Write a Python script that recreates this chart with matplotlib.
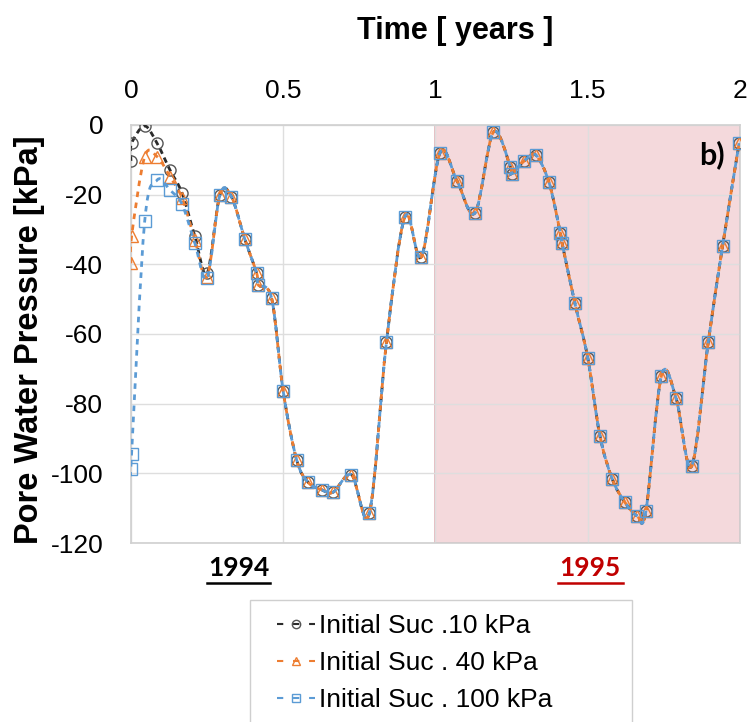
import numpy as np
import matplotlib.pyplot as plt
from matplotlib.path import Path
from matplotlib.patches import PathPatch, Rectangle
from matplotlib.lines import Line2D

plt.rcParams['axes.unicode_minus'] = False
plt.rcParams['font.family'] = 'Liberation Sans'

# time [years]
t = [0.0, 0.002, 0.045, 0.086, 0.128, 0.168, 0.21, 0.25, 0.292, 0.33,
     0.374, 0.413, 0.418, 0.462, 0.5, 0.544, 0.582, 0.626, 0.664, 0.724,
     0.783, 0.839, 0.9, 0.954, 1.015, 1.071, 1.13, 1.19, 1.246, 1.25,
     1.292, 1.329, 1.373, 1.41, 1.416, 1.458, 1.5, 1.54, 1.581, 1.622,
     1.662, 1.691, 1.742, 1.79, 1.841, 1.896, 1.943, 1.997]

# values after the initial period are the same for all three runs
common = [-20.1, -20.6, -32.8, -42.6, -45.9, -49.8, -76.5, -96.1, -102.6,
          -104.7, -105.4, -100.4, -111.4, -62.4, -26.3, -37.8, -8.0, -16.1,
          -25.2, -2.1, -12.0, -14.0, -10.3, -8.6, -16.5, -31.0, -34.0, -51.2,
          -66.8, -89.2, -101.7, -108.3, -112.2, -110.9, -72.0, -78.4, -98.0,
          -62.2, -34.7, -5.3]

suc10 = [-10.3, -5.3, -0.3, -5.3, -12.9, -19.6, -32.0, -42.6] + common
suc40 = [-39.7, -32.0, -9.1, -9.1, -14.8, -21.0, -33.0, -43.5] + common
suc100 = [-98.7, -94.4, -27.7, -15.8, -18.7, -22.8, -34.0, -44.0] + common

labels = ['Initial Suc .10 kPa', 'Initial Suc . 40 kPa', 'Initial Suc . 100 kPa']
colors = ['#2b2b2b', '#ED7D31', '#5B9BD5']
markers = ['o', '^', 's']
dashes = [(0, (2, 1.5)), (0, (2, 2)), (2, (2, 2))]


def smooth_path(x, y):
    # Excel-like smoothed line (Catmull-Rom as cubic Bezier)
    p = np.column_stack([x, y])
    n = len(p)
    verts = [p[0]]
    codes = [Path.MOVETO]
    for i in range(n - 1):
        p0 = p[max(i - 1, 0)]
        p1 = p[i]
        p2 = p[i + 1]
        p3 = p[min(i + 2, n - 1)]
        verts += [p1 + (p2 - p0) / 6, p2 - (p3 - p1) / 6, p2]
        codes += [Path.CURVE4] * 3
    return Path(verts, codes)


fig = plt.figure(figsize=(7.54, 7.22), dpi=100)
ax = fig.add_axes([0.1737, 0.2479, 0.8077, 0.579])

ax.axvspan(1, 2, facecolor='#F4D9DC', edgecolor='#E3AEB4', lw=1.2, zorder=0)

handles = []
for i, (vals, lab, c, m) in enumerate(zip([suc10, suc40, suc100], labels, colors, markers)):
    patch = PathPatch(smooth_path(t, vals), fill=False, edgecolor=c, lw=2,
                      linestyle=dashes[i], zorder=3 + i)
    ax.add_patch(patch)
    ms = 8 if m == 'o' else 9
    mec = '#555555' if i == 0 else c
    ax.plot(t, vals, linestyle='none', marker=m, ms=ms, mfc='none', mec=mec,
            mew=1.0, zorder=3 + i)
    handles.append(Line2D([], [], color=c, lw=1.5, linestyle=(0, (3, 4.7)),
                          marker=m, ms=6, mfc='none', mec=mec, mew=1.0))

ax.set_xlim(0, 2)
ax.set_ylim(-120, 0)
ax.set_xticks([0, 0.5, 1, 1.5, 2])
ax.set_xticklabels(['0', '0.5', '1', '1.5', '2'])
ax.set_yticks(range(-120, 1, 20))
ax.xaxis.tick_top()
ax.grid(True, color='#dedede', lw=1)
ax.set_axisbelow(True)
for s in ax.spines.values():
    s.set_color('#d0d0d0')
    s.set_linewidth(1.2)
ax.tick_params(length=0, labelsize=19)
ax.tick_params(axis='x', pad=16)
ax.tick_params(axis='y', pad=20)

fig.text(455 / 754, 1 - 39 / 722, 'Time [ years ]', ha='center', va='baseline',
         fontsize=22, fontweight='bold')
ax.set_ylabel('Pore Water Pressure [kPa]', fontsize=23.5, fontweight='bold')
ax.yaxis.set_label_coords(-0.141, 0.486)

ax.text(0.975, 0.93, 'b)', transform=ax.transAxes, ha='right', va='center',
        fontsize=22, fontweight='bold', family='Lato')

fig.text(239 / 754, 1 - 568 / 722, '1994', ha='center', va='center',
         fontsize=19, fontweight='bold', family='Lato', color='black')
fig.text(590 / 754, 1 - 568 / 722, '1995', ha='center', va='center',
         fontsize=19, fontweight='bold', family='Lato', color='#C00000')
fig.add_artist(Line2D([207 / 754, 270 / 754], [1 - 583 / 722] * 2, color='black', lw=1.8))
fig.add_artist(Line2D([558 / 754, 623 / 754], [1 - 583 / 722] * 2, color='#C00000', lw=1.8))

# legend frame (runs off the bottom of the picture)
fig.add_artist(Rectangle((250 / 754, -0.05), 382 / 754, 1 - 600 / 722 + 0.05,
                         transform=fig.transFigure, fill=False,
                         edgecolor='#cfcfcf', lw=1.0))
fig.legend(handles, labels, loc='upper left',
           bbox_to_anchor=(277 / 754, 1 - 614 / 722),
           frameon=False, handlelength=1.45, handletextpad=0.15,
           borderpad=0, borderaxespad=0, labelspacing=0.5,
           prop={'family': 'Liberation Sans', 'size': 19})

fig.savefig('out.png', dpi=100)
